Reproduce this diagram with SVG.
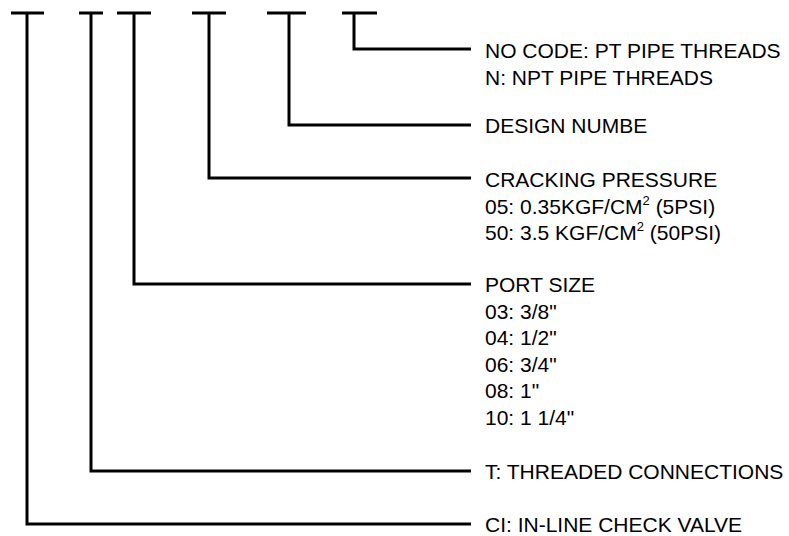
<svg xmlns="http://www.w3.org/2000/svg" width="789" height="536" viewBox="0 0 789 536">
<style>
.ln{fill:none;stroke:#000;stroke-width:3;stroke-linecap:butt;stroke-linejoin:miter}
.t{font-family:"Liberation Sans",Arial,sans-serif;font-size:21px;fill:#000}
.sup{font-size:13px}
</style>
<rect width="789" height="536" fill="#fff"/>
<g id="connectors">
<path class="ln" d="M11 13H44M27 13V524H471"/>
<path class="ln" d="M79 13H103M91 13V471H471"/>
<path class="ln" d="M117 13H151M134 13V284H471"/>
<path class="ln" d="M192 13H226M209 13V178H471"/>
<path class="ln" d="M267 13H306M289 13V125H471"/>
<path class="ln" d="M342 13H377M354 13V49H471"/>
</g>
<g id="node-threads">
<text class="t" x="485" y="57.5">NO CODE: PT PIPE THREADS</text>
<text class="t" x="485" y="84.5">N: NPT PIPE THREADS</text>
</g>
<g id="node-design">
<text class="t" x="485" y="133">DESIGN NUMBE</text>
</g>
<g id="node-cracking">
<text class="t" x="485" y="186.5">CRACKING PRESSURE</text>
<text class="t" x="485" y="213.5">05: 0.35KGF/CM<tspan class="sup" dy="-9">2</tspan><tspan dy="9"> (5PSI)</tspan></text>
<text class="t" x="485" y="240">50: 3.5 KGF/CM<tspan class="sup" dy="-9">2</tspan><tspan dy="9"> (50PSI)</tspan></text>
</g>
<g id="node-port">
<text class="t" x="485" y="292">PORT SIZE</text>
<text class="t" x="485" y="318.5">03: 3/8"</text>
<text class="t" x="485" y="345">04: 1/2"</text>
<text class="t" x="485" y="371.5">06: 3/4"</text>
<text class="t" x="485" y="398">08: 1"</text>
<text class="t" x="485" y="424.5">10: 1 1/4"</text>
</g>
<g id="node-connections">
<text class="t" x="485" y="479">T: THREADED CONNECTIONS</text>
</g>
<g id="node-type">
<text class="t" x="485" y="532">CI: IN-LINE CHECK VALVE</text>
</g>
</svg>
